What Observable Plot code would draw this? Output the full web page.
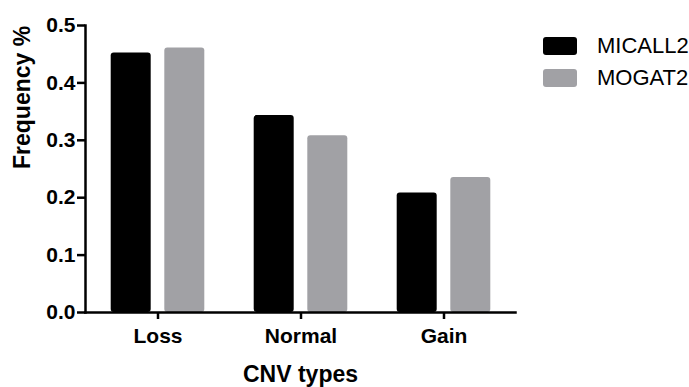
<!DOCTYPE html>
<html><head><meta charset="utf-8">
<script src="https://cdn.jsdelivr.net/npm/d3@7"></script>
<script src="https://cdn.jsdelivr.net/npm/@observablehq/plot@0.6"></script>
<style>
html,body{margin:0;padding:0;background:#fff;}
#chart{position:relative;width:689px;height:387px;font-family:"Liberation Sans",Arial,sans-serif;}
.legend-item{position:absolute;left:543px;height:18px;display:flex;align-items:center;white-space:nowrap;}
.legend-swatch{width:34px;height:18px;border-radius:3px;margin-right:20px;}
.legend-label{font-size:22px;line-height:18px;color:#000;}
</style>
</head><body>
<div id="chart"></div>
<script>
const categories = ["Loss", "Normal", "Gain"];
const series = ["MICALL2", "MOGAT2"];
const micall2 = [0.452, 0.343, 0.208];
const mogat2 = [0.461, 0.308, 0.235];
const colors = ["#000000", "#a1a1a5"];
const yTicks = [0, 0.1, 0.2, 0.3, 0.4, 0.5];
const xTitle = "CNV types";
const yTitle = "Frequency %";

const rows = categories.flatMap((c, i) => [
  {category: c, series: series[0], value: micall2[i]},
  {category: c, series: series[1], value: mogat2[i]}
]);

const FONT = "'Liberation Sans', Arial, sans-serif";
const bar = (s, dx) => Plot.barY(rows.filter(d => d.series === s), {
  x: "category", y: "value", fill: "series", dx, insetLeft: 51.5, insetRight: 51.5, rx: 3
});

const plot = Plot.plot({
  width: 689, height: 387,
  marginLeft: 85, marginRight: 174, marginTop: 25, marginBottom: 75,
  style: {fontFamily: FONT, fontWeight: "bold", fontSize: "20px", color: "#000", background: "white"},
  x: {domain: categories, padding: 0, label: null},
  y: {domain: [0, 0.5], label: null},
  color: {domain: series, range: colors},
  marks: [
    bar(series[0], -26.8),
    bar(series[1], 26.8),
    Plot.axisY({ticks: yTicks, tickFormat: d3.format(".1f"), tickSize: 8, tickPadding: 2, strokeWidth: 2.5, fontSize: 21, fontWeight: "bold", label: null}),
    Plot.axisX({tickSize: 7, tickPadding: 9, strokeWidth: 2.5, fontSize: 21, fontWeight: "bold", label: null}),
    Plot.frame({anchor: "left", strokeWidth: 2.5}),
    Plot.frame({anchor: "bottom", strokeWidth: 2.5}),
    Plot.text([yTitle], {frameAnchor: "left", rotate: -90, dx: -63, fontSize: 23, fontWeight: "bold", lineAnchor: "middle"}),
    Plot.text([xTitle], {frameAnchor: "bottom", dy: 62, fontSize: 23, fontWeight: "bold", lineAnchor: "middle"})
  ]
});

const chart = document.getElementById("chart");
chart.appendChild(plot);
series.forEach((s, i) => {
  const item = document.createElement("div");
  item.className = "legend-item";
  item.style.top = (37 + i * 32) + "px";
  const sw = document.createElement("div");
  sw.className = "legend-swatch";
  sw.style.background = colors[i];
  const lb = document.createElement("span");
  lb.className = "legend-label";
  lb.textContent = s;
  item.appendChild(sw);
  item.appendChild(lb);
  chart.appendChild(item);
});
</script>
</body></html>
